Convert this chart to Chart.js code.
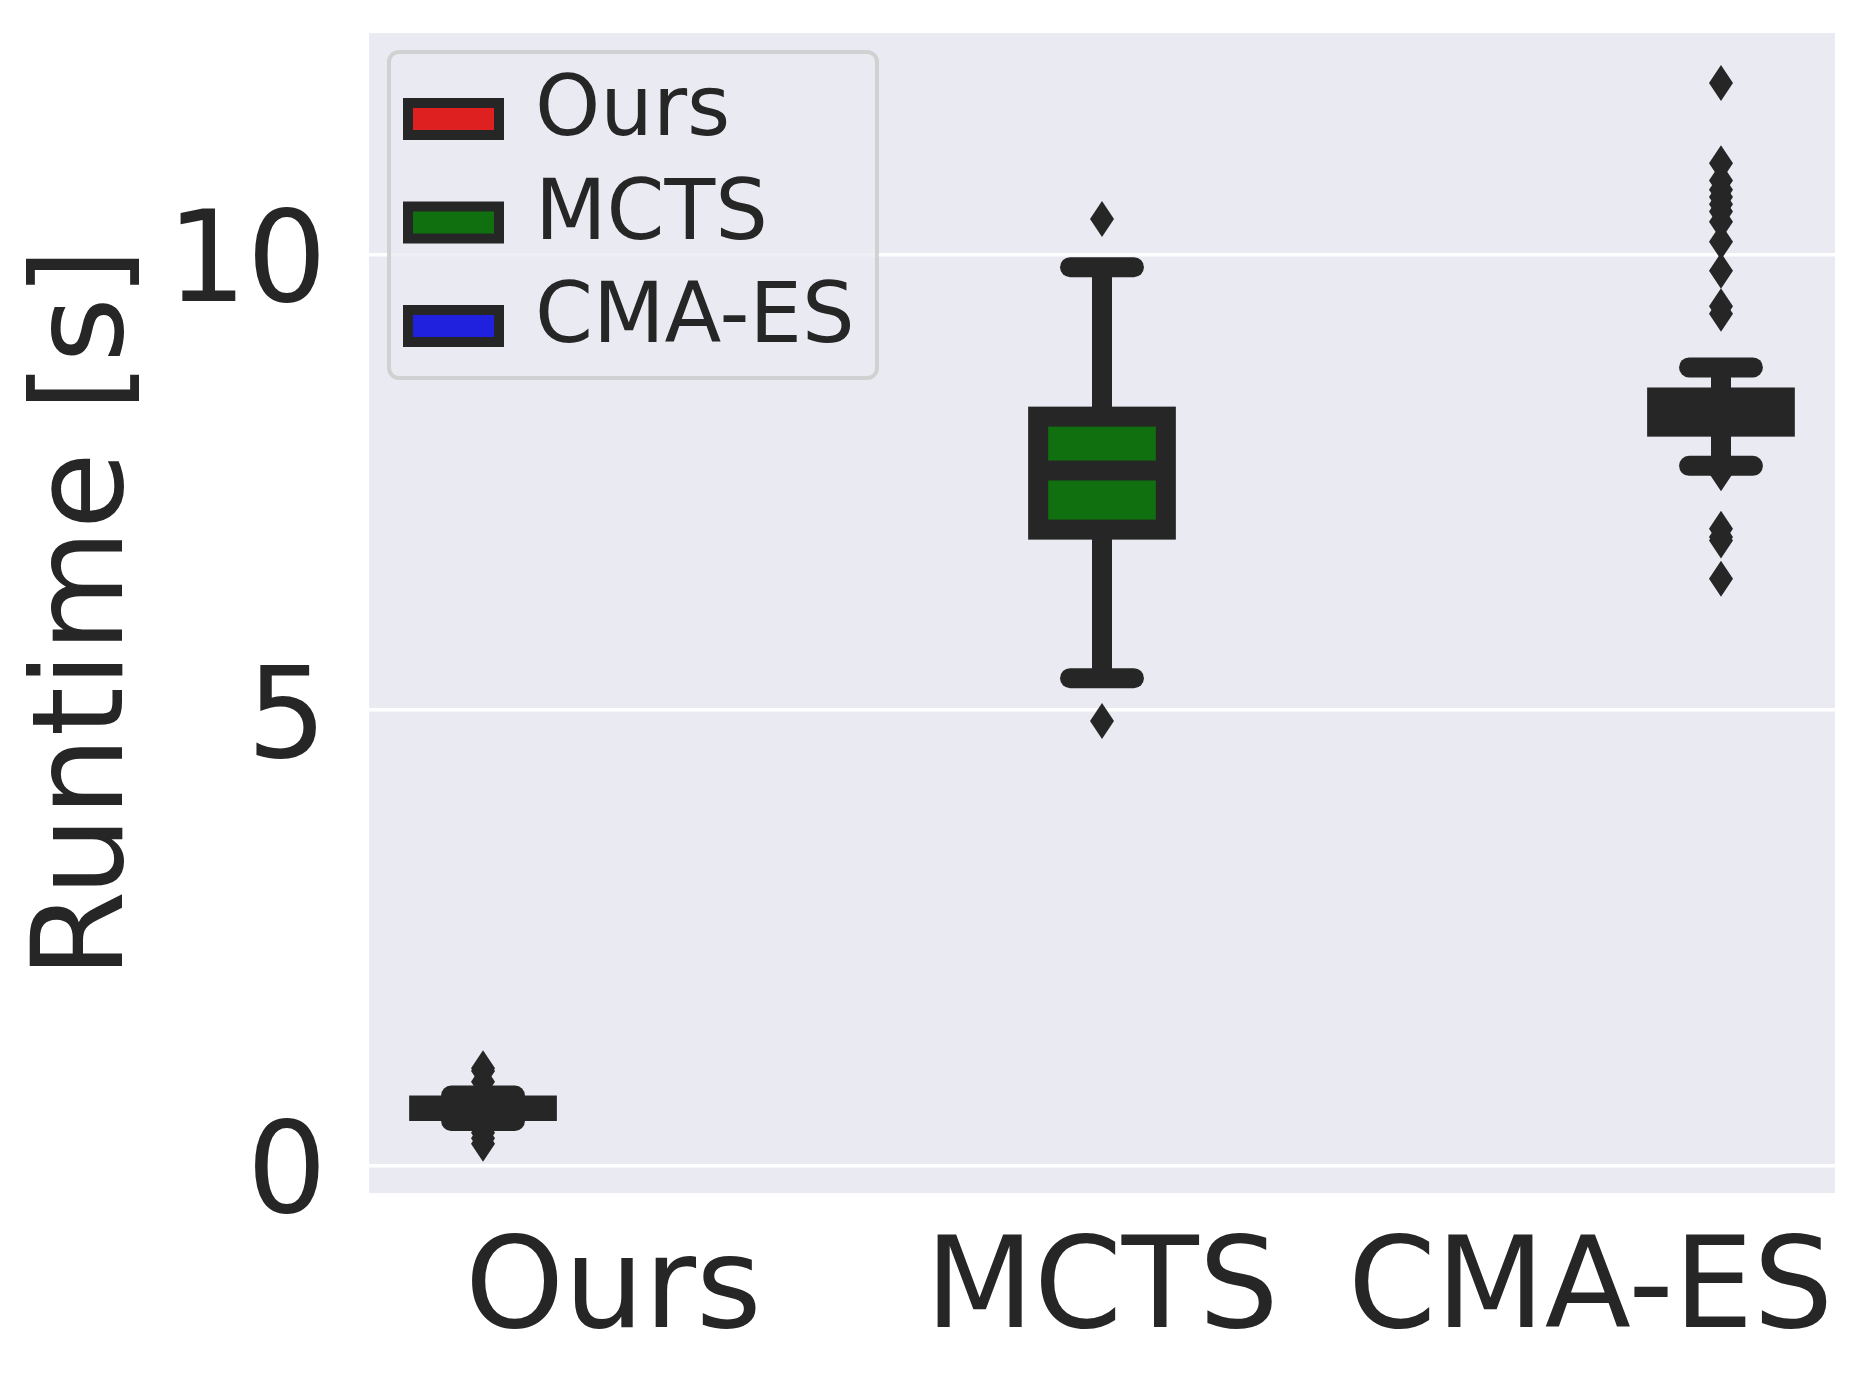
<!DOCTYPE html>
<html>
<head>
<meta charset="utf-8">
<script src="https://cdn.jsdelivr.net/npm/chart.js@4.4.0/dist/chart.umd.min.js"></script>
<style>
  html, body { margin: 0; padding: 0; background: #ffffff; }
  canvas { display: block; }
</style>
</head>
<body>
<canvas id="runtimeChart" width="1867" height="1387"></canvas>
<script>
// box plot statistics (seconds)
const methods = ['Ours', 'MCTS', 'CMA-ES'];
const q1 = [0.60, 6.98, 8.11];
const medians = [0.63, 7.63, 8.27];
const q3 = [0.66, 8.22, 8.43];
const whiskerLow = [0.49, 5.35, 7.68];
const whiskerHigh = [0.77, 9.86, 8.76];
const outliersOurs = [1.07, 1.04, 0.92, 0.36, 0.30, 0.24];
const outliersMCTS = [10.39, 4.88];
const outliersCMAES = [11.88, 11.00, 10.81, 10.71, 10.63, 10.55, 10.47, 10.36, 10.14,
                       9.82, 9.43, 9.35, 7.60, 6.99, 6.90, 6.86, 6.44];
const yTicks = [0, 5, 10];

const outliers = [outliersOurs, outliersMCTS, outliersCMAES];
const palette = ['#df2020', '#107010', '#2020df'];
const INK = '#262626';
const FONT = "'DejaVu Sans', sans-serif";

// seaborn-like axes background
const axesBackground = {
    id: 'axesBackground',
    beforeDraw(chart) {
        const { ctx, chartArea: a } = chart;
        ctx.save();
        ctx.fillStyle = '#eaeaf2';
        ctx.fillRect(a.left, a.top, a.right - a.left, a.bottom - a.top);
        ctx.restore();
    }
};

function line(ctx, x1, y1, x2, y2) {
    ctx.beginPath();
    ctx.moveTo(x1, y1);
    ctx.lineTo(x2, y2);
    ctx.stroke();
}

// edges, whiskers, caps, medians and fliers on top of the floating bars
const boxParts = {
    id: 'boxParts',
    afterDatasetsDraw(chart) {
        const { ctx } = chart;
        const y = chart.scales.y;
        ctx.save();
        ctx.strokeStyle = INK;
        ctx.fillStyle = INK;
        ctx.lineWidth = 20;
        chart.data.datasets.forEach((ds, k) => {
            const bar = chart.getDatasetMeta(k).data[k];
            const cx = bar.x;
            const half = bar.width / 2;
            const top = y.getPixelForValue(q3[k]);
            const bot = y.getPixelForValue(q1[k]);

            ctx.lineJoin = 'miter';
            ctx.strokeRect(cx - half, top, 2 * half, bot - top);

            ctx.lineCap = 'butt';
            line(ctx, cx, top, cx, y.getPixelForValue(whiskerHigh[k]));
            line(ctx, cx, bot, cx, y.getPixelForValue(whiskerLow[k]));

            ctx.lineCap = 'round';
            [whiskerHigh[k], whiskerLow[k]].forEach(v => {
                const py = y.getPixelForValue(v);
                line(ctx, cx - half / 2, py, cx + half / 2, py);
            });

            ctx.lineCap = 'butt';
            const my = y.getPixelForValue(medians[k]);
            line(ctx, cx - half, my, cx + half, my);

            outliers[k].forEach(v => {
                const py = y.getPixelForValue(v);
                ctx.beginPath();
                ctx.moveTo(cx, py - 18);
                ctx.lineTo(cx + 12, py);
                ctx.lineTo(cx, py + 18);
                ctx.lineTo(cx - 12, py);
                ctx.closePath();
                ctx.fill();
            });
        });
        ctx.restore();
    }
};

// matplotlib style legend inside the axes, upper left
const boxLegend = {
    id: 'boxLegend',
    afterDraw(chart) {
        const { ctx, chartArea: a } = chart;
        const x0 = a.left + 20, y0 = a.top + 19;
        const w = 488, h = 326, r = 10;
        ctx.save();
        ctx.beginPath();
        ctx.roundRect(x0, y0, w, h, r);
        ctx.fillStyle = 'rgba(234,234,242,0.8)';
        ctx.fill();
        ctx.lineWidth = 4;
        ctx.strokeStyle = 'rgba(204,204,204,0.85)';
        ctx.stroke();

        ctx.font = '83px ' + FONT;
        ctx.textBaseline = 'alphabetic';
        ctx.textAlign = 'left';
        chart.data.datasets.forEach((ds, k) => {
            const cy = y0 + 67 + k * 103.5;
            ctx.fillStyle = INK;
            ctx.fillRect(x0 + 14, cy - 21, 101, 42);
            ctx.fillStyle = ds.backgroundColor;
            ctx.fillRect(x0 + 24, cy - 11, 81, 22);
            ctx.fillStyle = INK;
            ctx.fillText(ds.label, x0 + 146, cy + 16);
        });
        ctx.restore();
    }
};

const datasets = methods.map((m, k) => ({
    label: m,
    data: methods.map((_, i) => (i === k ? [q1[k], q3[k]] : null)),
    backgroundColor: palette[k],
    borderWidth: 0,
    categoryPercentage: 0.8,
    barPercentage: 0.98
}));

const tickFont = { family: FONT, size: 126 };

new Chart(document.getElementById('runtimeChart'), {
    type: 'bar',
    data: { labels: methods, datasets: datasets },
    plugins: [axesBackground, boxParts, boxLegend],
    options: {
        responsive: false,
        animation: false,
        devicePixelRatio: 1,
        events: [],
        layout: { padding: { top: 33, right: 32, bottom: 0, left: 0 } },
        plugins: {
            legend: { display: false },
            tooltip: { enabled: false }
        },
        scales: {
            x: {
                grid: { display: false },
                border: { display: false },
                ticks: { color: INK, font: tickFont, padding: 18, maxRotation: 0, autoSkip: false },
                afterFit: s => {
                    s.height = 194;
                    s.paddingLeft = 0;
                    s.paddingRight = 0;
                }
            },
            y: {
                min: -0.30,
                max: 12.43,
                grid: { color: '#ffffff', lineWidth: 3.5, drawTicks: false },
                border: { display: false },
                ticks: { color: INK, font: tickFont, padding: 42, labelOffset: 14 },
                afterBuildTicks: s => { s.ticks = yTicks.map(v => ({ value: v })); },
                title: {
                    display: true,
                    text: 'Runtime [s]',
                    color: INK,
                    font: tickFont,
                    padding: { top: 14, bottom: 0 }
                },
                afterFit: s => {
                    s.width = 369;
                    s.paddingTop = 0;
                    s.paddingBottom = 0;
                }
            }
        }
    }
});
</script>
</body>
</html>
